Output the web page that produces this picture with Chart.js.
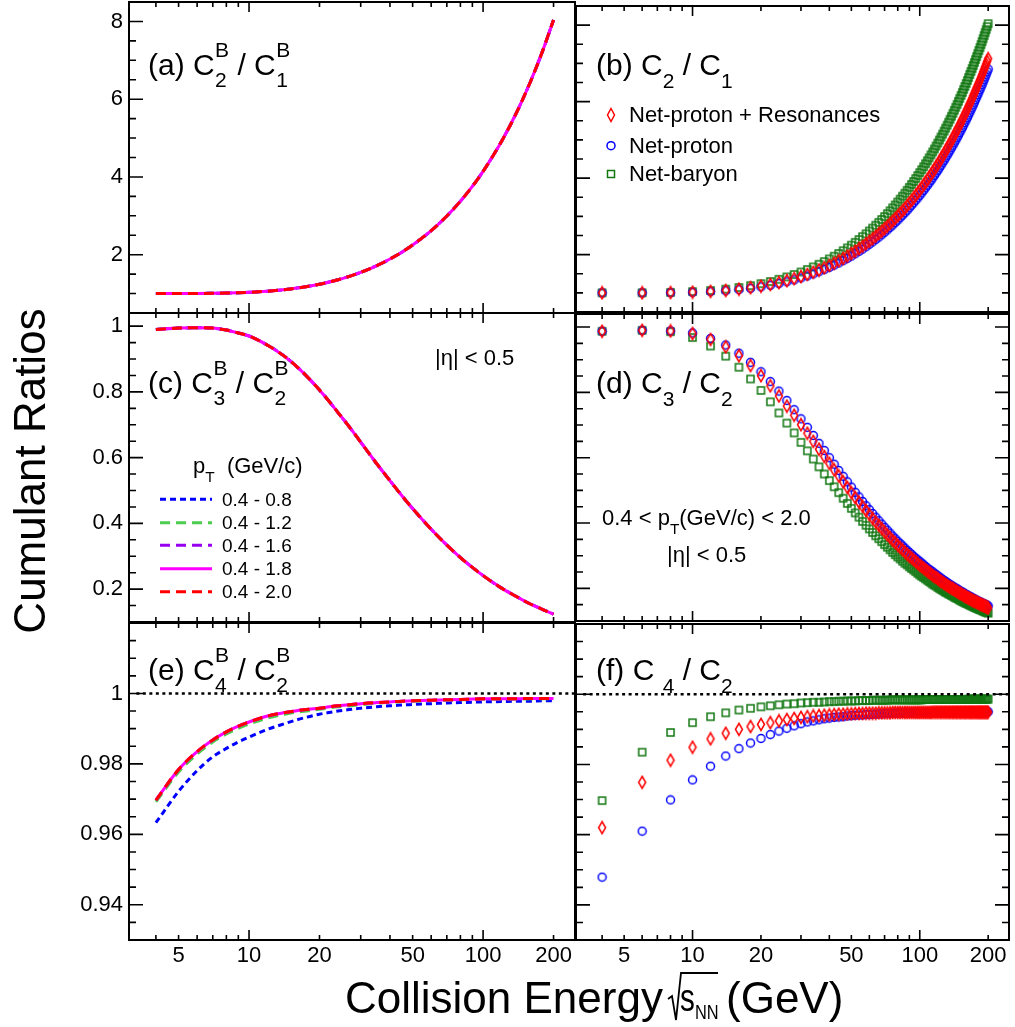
<!DOCTYPE html>
<html lang="en">
<head>
<meta charset="UTF-8" />
<title>Cumulant Ratios</title>
<script src="https://cdn.jsdelivr.net/npm/chart.js/dist/chart.umd.min.js"></script>
<style>
  body { margin: 0; background: #fff; width: 1015px; height: 1027px; position: relative; overflow: hidden; }
  canvas { position: absolute; }
  .t { position: absolute; white-space: nowrap; line-height: 1; color: #000;
       font-family: "Liberation Sans", Arial, sans-serif; }
  .st { display: inline-block; position: relative; width: .48em; height: .1em; }
  .st span { position: absolute; left: .02em; font-size: .7em; line-height: 1; }
  .st .u { top: -1.55em; }
  .st .d { top: -.12em; }
  .sb { position: relative; font-size: .7em; top: .6em; }
  .nar { transform: scaleX(.78); transform-origin: left top; }
  #marks { position: absolute; left: 0; top: 0; }
</style>
</head>
<body>
<canvas id="pa" width="580" height="318" style="left:0;top:0"></canvas>
<canvas id="pb" width="445" height="318" style="left:570px;top:0"></canvas>
<canvas id="pc" width="580" height="319" style="left:0;top:308px"></canvas>
<canvas id="pd" width="445" height="319" style="left:570px;top:308px"></canvas>
<canvas id="pe" width="580" height="409" style="left:0;top:618px"></canvas>
<canvas id="pf" width="445" height="409" style="left:570px;top:618px"></canvas>

<!-- panel labels -->
<div class="t" style="left:148px;top:50px;font-size:30px">(a) C<span class="st"><span class="u">B</span><span class="d">2</span></span> / C<span class="st"><span class="u">B</span><span class="d">1</span></span></div>
<div class="t" style="left:596px;top:50px;font-size:30px">(b) C<span class="sb">2</span> / C<span class="sb">1</span></div>
<div class="t" style="left:148px;top:368px;font-size:30px">(c) C<span class="st"><span class="u">B</span><span class="d">3</span></span> / C<span class="st"><span class="u">B</span><span class="d">2</span></span></div>
<div class="t" style="left:596px;top:368px;font-size:30px">(d) C<span class="sb">3</span> / C<span class="sb">2</span></div>
<div class="t" style="left:148px;top:655px;font-size:30px">(e) C<span class="st"><span class="u">B</span><span class="d">4</span></span> / C<span class="st"><span class="u">B</span><span class="d">2</span></span></div>
<div class="t" style="left:596px;top:655px;font-size:30px">(f) C <span class="sb">4</span> / C<span class="sb">2</span></div>

<!-- legend (b) -->
<div class="t" style="left:629px;top:104px;font-size:22px">Net-proton + Resonances</div>
<div class="t" style="left:629px;top:135px;font-size:22px">Net-proton</div>
<div class="t" style="left:629px;top:163px;font-size:22px">Net-baryon</div>

<!-- legend (c) -->
<div class="t" style="left:193px;top:455px;font-size:22px">p<span class="sb">T</span>&nbsp; (GeV/c)</div>
<div class="t" style="left:222px;top:490px;font-size:19px">0.4 - 0.8</div>
<div class="t" style="left:222px;top:513px;font-size:19px">0.4 - 1.2</div>
<div class="t" style="left:222px;top:536px;font-size:19px">0.4 - 1.6</div>
<div class="t" style="left:222px;top:559px;font-size:19px">0.4 - 1.8</div>
<div class="t" style="left:222px;top:582px;font-size:19px">0.4 - 2.0</div>
<div class="t" style="left:435px;top:347px;font-size:22px">|η| &lt; 0.5</div>

<!-- text (d) -->
<div class="t" style="left:602px;top:507px;font-size:22px">0.4 &lt; p<span class="sb">T</span>(GeV/c) &lt; 2.0</div>
<div class="t" style="left:667px;top:544px;font-size:22px">|η| &lt; 0.5</div>

<!-- axis titles -->
<div class="t" style="left:345px;top:976px;font-size:44px">Collision Energy</div>
<div class="t nar" style="left:680px;top:979px;font-size:38px">s</div>
<div class="t nar" style="left:695px;top:1001px;font-size:21px">NN</div>
<div class="t" style="left:726px;top:976px;font-size:44px">(GeV)</div>
<div class="t" style="left:-170px;top:449px;width:400px;text-align:center;font-size:44px;transform:rotate(-90deg)">Cumulant Ratios</div>

<svg id="marks" width="1015" height="1027">
  <polyline points="668,999 672,996 676,1020 681,973 718,973" fill="none" stroke="#000" stroke-width="1.8"/>
  <polygon points="611,108.5 614.5,115 611,121.5 607.5,115" fill="none" stroke="#ff0000" stroke-width="1.5"/>
  <circle cx="611" cy="145.7" r="4" fill="none" stroke="#0000ff" stroke-width="1.5"/>
  <rect x="607.5" y="170.5" width="7" height="7" fill="none" stroke="#117711" stroke-width="1.5"/>
  <line x1="160" y1="499.3" x2="212" y2="499.3" stroke="#0000ff" stroke-width="3" stroke-dasharray="6 4"/>
  <line x1="160" y1="522.7" x2="212" y2="522.7" stroke="#4dcc4d" stroke-width="3" stroke-dasharray="10 6"/>
  <line x1="160" y1="545.3" x2="212" y2="545.3" stroke="#9a00f0" stroke-width="3" stroke-dasharray="10 6"/>
  <line x1="160" y1="568.7" x2="212" y2="568.7" stroke="#ff00ff" stroke-width="3"/>
  <line x1="160" y1="591.7" x2="212" y2="591.7" stroke="#ff0000" stroke-width="3" stroke-dasharray="10 6"/>
</svg>

<script>
// collision energies of the model points (GeV)
const energies = [4,6,8,10,12,14,16,18,20,22,
  24,26,28,30,32,34,36,38,40,42,
  44,46,48,50,52,54,56,58,60,62,
  64,66,68,70,72,74,76,78,80,82,
  84,86,88,90,92,94,96,98,100,102,
  104,106,108,110,112,114,116,118,120,122,
  124,126,128,130,132,134,136,138,140,142,
  144,146,148,150,152,154,156,158,160,162,
  164,166,168,170,172,174,176,178,180,182,
  184,186,188,190,192,194,196,198,200];

// (b) C2/C1
const c2c1NetProtonRes = [1.000,1.001,1.007,1.019,1.039,1.065,1.097,1.134,1.175,1.220,
  1.268,1.319,1.371,1.426,1.481,1.538,1.597,1.656,1.716,1.778,
  1.839,1.901,1.964,2.027,2.091,2.155,2.220,2.285,2.350,2.415,
  2.481,2.547,2.613,2.679,2.745,2.812,2.878,2.945,3.012,3.079,
  3.146,3.214,3.281,3.349,3.416,3.484,3.552,3.620,3.687,3.756,
  3.824,3.892,3.960,4.028,4.096,4.164,4.233,4.301,4.369,4.438,
  4.506,4.575,4.643,4.712,4.781,4.849,4.918,4.986,5.055,5.124,
  5.193,5.261,5.330,5.399,5.468,5.537,5.605,5.674,5.743,5.812,
  5.881,5.950,6.019,6.088,6.157,6.226,6.295,6.364,6.433,6.502,
  6.571,6.640,6.709,6.778,6.847,6.917,6.986,7.055,7.124];
const c2c1NetProton = [1.000,1.001,1.005,1.016,1.033,1.056,1.085,1.119,1.157,1.198,
  1.243,1.290,1.339,1.391,1.443,1.497,1.553,1.609,1.666,1.724,
  1.782,1.842,1.901,1.962,2.023,2.084,2.145,2.207,2.270,2.332,
  2.395,2.458,2.521,2.584,2.648,2.711,2.775,2.839,2.903,2.968,
  3.032,3.096,3.161,3.226,3.291,3.356,3.420,3.485,3.550,3.616,
  3.681,3.746,3.811,3.877,3.942,4.008,4.073,4.139,4.204,4.270,
  4.336,4.401,4.467,4.533,4.599,4.665,4.731,4.797,4.862,4.928,
  4.994,5.060,5.126,5.193,5.259,5.325,5.391,5.457,5.523,5.589,
  5.655,5.722,5.788,5.854,5.920,5.987,6.053,6.119,6.185,6.252,
  6.318,6.384,6.451,6.517,6.583,6.650,6.716,6.783,6.849];
const c2c1NetBaryon = [1.000,1.003,1.013,1.033,1.062,1.098,1.141,1.189,1.241,1.297,
  1.356,1.417,1.480,1.546,1.611,1.679,1.748,1.817,1.888,1.959,
  2.030,2.102,2.175,2.248,2.321,2.395,2.469,2.544,2.618,2.693,
  2.768,2.844,2.919,2.995,3.071,3.147,3.223,3.299,3.376,3.452,
  3.529,3.605,3.682,3.759,3.836,3.913,3.990,4.067,4.144,4.222,
  4.299,4.376,4.453,4.531,4.608,4.686,4.763,4.841,4.918,4.996,
  5.074,5.151,5.229,5.307,5.385,5.462,5.540,5.618,5.696,5.774,
  5.852,5.929,6.007,6.085,6.163,6.241,6.319,6.397,6.475,6.553,
  6.631,6.710,6.788,6.866,6.944,7.022,7.100,7.178,7.256,7.335,
  7.413,7.491,7.569,7.647,7.726,7.804,7.882,7.960,8.039];

// (d) C3/C2
const c3c2NetProtonRes = [0.987,0.990,0.988,0.980,0.962,0.939,0.912,0.882,0.851,0.820,
  0.789,0.758,0.730,0.701,0.675,0.650,0.626,0.604,0.583,0.563,
  0.544,0.526,0.509,0.493,0.478,0.464,0.451,0.438,0.426,0.414,
  0.403,0.393,0.383,0.373,0.364,0.356,0.347,0.340,0.332,0.325,
  0.318,0.311,0.305,0.299,0.293,0.287,0.282,0.276,0.271,0.266,
  0.262,0.257,0.253,0.248,0.244,0.240,0.236,0.233,0.229,0.225,
  0.222,0.219,0.215,0.212,0.209,0.206,0.203,0.201,0.198,0.195,
  0.193,0.190,0.188,0.185,0.183,0.181,0.178,0.176,0.174,0.172,
  0.170,0.168,0.166,0.164,0.162,0.161,0.159,0.157,0.156,0.154,
  0.152,0.151,0.149,0.148,0.146,0.145,0.143,0.142,0.140];
const c3c2NetProton = [0.987,0.990,0.988,0.982,0.965,0.945,0.920,0.892,0.863,0.833,
  0.804,0.775,0.747,0.719,0.693,0.668,0.644,0.622,0.600,0.580,
  0.561,0.543,0.526,0.510,0.494,0.480,0.466,0.453,0.441,0.429,
  0.418,0.407,0.397,0.387,0.378,0.369,0.360,0.352,0.344,0.337,
  0.330,0.323,0.316,0.310,0.304,0.298,0.292,0.287,0.282,0.277,
  0.272,0.267,0.262,0.258,0.254,0.250,0.246,0.242,0.238,0.234,
  0.231,0.227,0.224,0.221,0.217,0.214,0.211,0.209,0.206,0.203,
  0.200,0.198,0.195,0.193,0.190,0.188,0.186,0.183,0.181,0.179,
  0.177,0.175,0.173,0.171,0.169,0.167,0.165,0.163,0.162,0.160,
  0.158,0.157,0.155,0.153,0.152,0.150,0.149,0.147,0.146];
const c3c2NetBaryon = [0.987,0.990,0.986,0.968,0.942,0.911,0.877,0.841,0.806,0.771,
  0.737,0.706,0.676,0.647,0.621,0.596,0.572,0.550,0.530,0.511,
  0.493,0.476,0.460,0.445,0.431,0.418,0.405,0.393,0.382,0.371,
  0.361,0.352,0.343,0.334,0.326,0.318,0.310,0.303,0.296,0.290,
  0.283,0.277,0.272,0.266,0.261,0.256,0.251,0.246,0.241,0.237,
  0.233,0.229,0.225,0.221,0.217,0.213,0.210,0.207,0.203,0.200,
  0.197,0.194,0.191,0.188,0.186,0.183,0.181,0.178,0.176,0.173,
  0.171,0.169,0.167,0.164,0.162,0.160,0.158,0.156,0.154,0.153,
  0.151,0.149,0.147,0.146,0.144,0.142,0.141,0.139,0.138,0.136,
  0.135,0.134,0.132,0.131,0.129,0.128,0.127,0.126,0.124];

// (f) C4/C2
const c4c2NetProtonRes = [0.9620,0.9749,0.9812,0.9849,0.9873,0.9889,0.9900,0.9908,0.9914,0.9919,
  0.9924,0.9928,0.9931,0.9934,0.9936,0.9938,0.9939,0.9940,0.9941,0.9942,
  0.9943,0.9943,0.9944,0.9944,0.9945,0.9945,0.9945,0.9946,0.9946,0.9946,
  0.9946,0.9947,0.9947,0.9947,0.9947,0.9947,0.9948,0.9948,0.9948,0.9948,
  0.9948,0.9948,0.9948,0.9948,0.9948,0.9948,0.9948,0.9948,0.9948,0.9948,
  0.9948,0.9948,0.9948,0.9948,0.9948,0.9949,0.9949,0.9949,0.9949,0.9949,
  0.9949,0.9949,0.9949,0.9949,0.9949,0.9949,0.9949,0.9949,0.9949,0.9949,
  0.9949,0.9949,0.9949,0.9949,0.9949,0.9949,0.9949,0.9949,0.9949,0.9949,
  0.9949,0.9949,0.9949,0.9949,0.9949,0.9949,0.9949,0.9949,0.9949,0.9949,
  0.9949,0.9949,0.9949,0.9949,0.9949,0.9949,0.9949,0.9949,0.9949];
const c4c2NetProton = [0.9479,0.9610,0.9699,0.9756,0.9795,0.9824,0.9845,0.9861,0.9874,0.9885,
  0.9895,0.9903,0.9910,0.9916,0.9921,0.9924,0.9927,0.9930,0.9932,0.9934,
  0.9935,0.9936,0.9938,0.9939,0.9940,0.9941,0.9941,0.9942,0.9942,0.9943,
  0.9943,0.9944,0.9944,0.9945,0.9945,0.9945,0.9946,0.9946,0.9946,0.9946,
  0.9947,0.9947,0.9947,0.9947,0.9947,0.9947,0.9947,0.9947,0.9948,0.9948,
  0.9948,0.9948,0.9948,0.9948,0.9948,0.9948,0.9949,0.9949,0.9949,0.9949,
  0.9949,0.9949,0.9949,0.9949,0.9949,0.9949,0.9949,0.9949,0.9949,0.9949,
  0.9950,0.9950,0.9950,0.9950,0.9950,0.9950,0.9950,0.9950,0.9950,0.9950,
  0.9950,0.9950,0.9950,0.9950,0.9950,0.9950,0.9950,0.9950,0.9950,0.9950,
  0.9950,0.9950,0.9950,0.9950,0.9950,0.9950,0.9950,0.9950,0.9950];
const c4c2NetBaryon = [0.9697,0.9835,0.9891,0.9919,0.9936,0.9947,0.9955,0.9960,0.9964,0.9967,
  0.9970,0.9972,0.9973,0.9975,0.9976,0.9977,0.9977,0.9978,0.9979,0.9979,
  0.9980,0.9980,0.9981,0.9981,0.9981,0.9982,0.9982,0.9982,0.9982,0.9983,
  0.9983,0.9983,0.9983,0.9983,0.9983,0.9984,0.9984,0.9984,0.9984,0.9984,
  0.9984,0.9984,0.9984,0.9984,0.9984,0.9984,0.9984,0.9984,0.9984,0.9984,
  0.9985,0.9985,0.9985,0.9985,0.9985,0.9985,0.9985,0.9985,0.9985,0.9985,
  0.9985,0.9985,0.9985,0.9985,0.9985,0.9985,0.9985,0.9985,0.9985,0.9985,
  0.9985,0.9985,0.9985,0.9985,0.9985,0.9985,0.9985,0.9985,0.9985,0.9985,
  0.9986,0.9986,0.9986,0.9986,0.9986,0.9986,0.9986,0.9986,0.9986,0.9986,
  0.9986,0.9986,0.9986,0.9986,0.9986,0.9986,0.9986,0.9986,0.9986];

// baryon-number curves (a), (c), (e)
const lineEnergies = [4,5,6,7,8,9,10,12,14,16,18,20,22,24,26,28,30,35,40,45,50,60,70,80,90,100,120,140,160,180,200];
const c2c1Lines = [1.000,1.001,1.003,1.007,1.013,1.022,1.033,1.062,1.098,1.141,1.189,1.241,1.297,1.356,1.417,1.480,
  1.546,1.714,1.888,2.065,2.248,2.618,2.995,3.376,3.759,4.144,4.918,5.696,6.475,7.256,8.039];
const c3c2Lines = [0.990,0.994,0.995,0.994,0.988,0.979,0.970,0.942,0.911,0.877,0.841,0.806,0.771,0.737,0.706,0.676,
  0.647,0.583,0.530,0.484,0.445,0.382,0.334,0.296,0.266,0.241,0.203,0.176,0.154,0.138,0.124];
const c4c2PtHigh = [0.9697,0.9784,0.9835,0.9868,0.9891,0.9907,0.9919,0.9936,0.9945,0.9951,0.9955,0.9958,0.9962,0.9965,0.9967,0.9969,
  0.9971,0.9974,0.9976,0.9978,0.9979,0.9981,0.9982,0.9983,0.9984,0.9985,0.9985,0.9985,0.9986,0.9986,0.9986];
const c4c2Pt12 = [0.9692,0.9777,0.9828,0.9862,0.9885,0.9901,0.9913,0.9930,0.9940,0.9947,0.9951,0.9955,0.9959,0.9962,0.9964,0.9966,
  0.9968,0.9972,0.9975,0.9977,0.9978,0.9980,0.9981,0.9982,0.9983,0.9984,0.9984,0.9984,0.9985,0.9985,0.9985];
const c4c2Pt08 = [0.9633,0.9722,0.9781,0.9820,0.9844,0.9862,0.9876,0.9898,0.9913,0.9925,0.9934,0.9941,0.9946,0.9950,0.9953,0.9956,
  0.9958,0.9962,0.9965,0.9967,0.9969,0.9971,0.9973,0.9974,0.9975,0.9976,0.9977,0.9978,0.9978,0.9979,0.9979];

// axis ticks
const xMajorTicks = [10, 100];
const xMinorTicks = [4,5,6,7,8,9,20,30,40,50,60,70,80,90,200];
const xLabelValues = [5, 10, 20, 50, 100, 200];
const xLabelText = ['5', '10', '20', '50', '100', '200'];
const yMajorA = [2, 4, 6, 8];
const yLabelsA = ['2', '4', '6', '8'];
const yMinorA = [0.5,1,1.5,2.5,3,3.5,4.5,5,5.5,6.5,7,7.5,8.5];
const yMajorC = [0.2, 0.4, 0.6, 0.8, 1];
const yLabelsC = ['0.2', '0.4', '0.6', '0.8', '1'];
const yMinorC = [0.1,0.15,0.25,0.3,0.35,0.45,0.5,0.55,0.65,0.7,0.75,0.85,0.9,0.95];
const yMajorE = [0.94, 0.96, 0.98, 1];
const yLabelsE = ['0.94', '0.96', '0.98', '1'];
const yMinorE = [0.93,0.935,0.945,0.95,0.955,0.965,0.97,0.975,0.985,0.99,0.995,1.005,1.01,1.015,1.02];

const FONT = "'Liberation Sans', Arial, sans-serif";
const xMin = 3.07, xMax = 247;
const RED = '#ff0000', BLUE = '#0000ff', GREEN = '#117711';

function pts(xs, ys) {
  return xs.map((x, i) => ({ x: x, y: ys[i] }));
}

// open ROOT-like markers
function markerImg(shape, color) {
  const c = document.createElement('canvas');
  c.width = shape === 'diamond' ? 10 : 11;
  c.height = shape === 'diamond' ? 15 : 11;
  const g = c.getContext('2d');
  g.strokeStyle = color;
  g.lineWidth = 1.5;
  g.beginPath();
  if (shape === 'circle') g.arc(5.5, 5.5, 4, 0, Math.PI * 2);
  else if (shape === 'square') g.rect(2, 2, 7, 7);
  else { g.moveTo(5, 1.5); g.lineTo(8.5, 7.5); g.lineTo(5, 13.5); g.lineTo(1.5, 7.5); g.closePath(); }
  g.stroke();
  return c;
}
const diamond = markerImg('diamond', RED);
const circle = markerImg('circle', BLUE);
const square = markerImg('square', GREEN);

function markers(red, blue, green) {
  const base = { showLine: false, pointRadius: 5, pointHoverRadius: 5 };
  return [
    Object.assign({ data: pts(energies, red), pointStyle: diamond }, base),
    Object.assign({ data: pts(energies, blue), pointStyle: circle }, base),
    Object.assign({ data: pts(energies, green), pointStyle: square }, base)
  ];
}

function lines(p08, p12, p16, p18, p20) {
  const base = { showLine: true, pointRadius: 0, borderWidth: 3, fill: false, cubicInterpolationMode: 'monotone' };
  return [
    Object.assign({ data: pts(lineEnergies, p20), borderColor: RED, borderDash: [10, 6] }, base),
    Object.assign({ data: pts(lineEnergies, p18), borderColor: '#ff00ff' }, base),
    Object.assign({ data: pts(lineEnergies, p16), borderColor: '#9a00f0', borderDash: [10, 6] }, base),
    Object.assign({ data: pts(lineEnergies, p12), borderColor: '#4dcc4d', borderDash: [10, 6] }, base),
    Object.assign({ data: pts(lineEnergies, p08), borderColor: BLUE, borderDash: [6, 4] }, base)
  ];
}

function unityLine() {
  return {
    data: [{ x: 3.3, y: 1 }, { x: 247, y: 1 }],
    showLine: true, pointRadius: 0, borderColor: '#000', borderWidth: 2.5, borderDash: [3, 3.5]
  };
}

// frame with inward ticks, ROOT style
const frame = {
  id: 'frame',
  afterDatasetsDraw(chart, args, o) {
    const { ctx, chartArea: a, scales: { x, y } } = chart;
    ctx.save();
    ctx.strokeStyle = '#000';
    ctx.lineWidth = 1.6;
    ctx.beginPath();
    const seg = (x1, y1, x2, y2) => { ctx.moveTo(x1, y1); ctx.lineTo(x2, y2); };
    xMajorTicks.concat(xMinorTicks).forEach(v => {
      const px = x.getPixelForValue(v);
      const len = xMajorTicks.includes(v) ? 10 : 5;
      seg(px, a.bottom, px, a.bottom - len);
      seg(px, a.top, px, a.top + len);
    });
    o.yMajor.concat(o.yMinor).forEach(v => {
      const py = y.getPixelForValue(v);
      const len = o.yMajor.includes(v) ? 14 : 7;
      seg(a.left, py, a.left + len, py);
      if (o.right) seg(a.right, py, a.right - len, py);
    });
    ctx.stroke();
    ctx.lineWidth = 2;
    ctx.strokeRect(a.left, a.top, a.right - a.left, a.bottom - a.top);
    ctx.restore();
  }
};

function panel(id, o) {
  const yText = o.yLabels || [];
  return new Chart(document.getElementById(id), {
    type: 'scatter',
    data: { datasets: o.datasets },
    options: {
      responsive: false,
      animation: false,
      devicePixelRatio: 1,
      events: [],
      layout: { padding: o.pad },
      plugins: {
        legend: { display: false },
        tooltip: { enabled: false },
        frame: { yMajor: o.yMajor, yMinor: o.yMinor, right: !!o.right }
      },
      scales: {
        x: {
          type: 'logarithmic', min: xMin, max: xMax,
          display: !!o.xHeight, position: 'bottom',
          grid: { display: false, drawTicks: false }, border: { display: false },
          afterBuildTicks: s => { s.ticks = xLabelValues.map(v => ({ value: v })); },
          afterFit: s => { s.height = o.xHeight || 0; s.paddingLeft = 0; s.paddingRight = 0; },
          ticks: {
            autoSkip: false, maxRotation: 0, minRotation: 0, padding: 3, color: '#000',
            font: { family: FONT, size: 22 },
            callback: (v, i) => xLabelText[i] || ''
          }
        },
        y: {
          type: 'linear', min: o.yMin, max: o.yMax,
          display: !!o.yLabels, position: 'left',
          grid: { display: false, drawTicks: false }, border: { display: false },
          afterBuildTicks: s => { s.ticks = o.yMajor.map(v => ({ value: v })); },
          afterFit: s => { s.width = o.yLabels ? 129 : 0; s.paddingTop = 0; s.paddingBottom = 0; },
          ticks: {
            padding: 6, color: '#000',
            font: { family: FONT, size: 22 },
            callback: (v, i) => yText[i] || ''
          }
        }
      }
    },
    plugins: [frame]
  });
}

const padL = (t, b) => ({ left: 0, right: 5, top: t, bottom: b });
const padR = (t, b) => ({ left: 5, right: 2, top: t, bottom: b });

panel('pa', { pad: padL(2, 5), yMin: 0.5, yMax: 8.5, yMajor: yMajorA, yMinor: yMinorA, yLabels: yLabelsA,
  datasets: lines(c2c1Lines, c2c1Lines, c2c1Lines, c2c1Lines, c2c1Lines) });
panel('pb', { pad: padR(2, 5), yMin: 0.5, yMax: 8.5, yMajor: yMajorA, yMinor: yMinorA, right: true,
  datasets: markers(c2c1NetProtonRes, c2c1NetProton, c2c1NetBaryon) });
panel('pc', { pad: padL(5, 5), yMin: 0.1, yMax: 1.04, yMajor: yMajorC, yMinor: yMinorC, yLabels: yLabelsC,
  datasets: lines(c3c2Lines, c3c2Lines, c3c2Lines, c3c2Lines, c3c2Lines) });
panel('pd', { pad: padR(5, 5), yMin: 0.1, yMax: 1.04, yMajor: yMajorC, yMinor: yMinorC, right: true,
  datasets: markers(c3c2NetProtonRes, c3c2NetProton, c3c2NetBaryon) });
panel('pe', { pad: padL(5, 0), xHeight: 87, yMin: 0.93, yMax: 1.02, yMajor: yMajorE, yMinor: yMinorE, yLabels: yLabelsE,
  datasets: [unityLine()].concat(lines(c4c2Pt08, c4c2Pt12, c4c2PtHigh, c4c2PtHigh, c4c2PtHigh)) });
panel('pf', { pad: padR(5, 0), xHeight: 87, yMin: 0.93, yMax: 1.02, yMajor: yMajorE, yMinor: yMinorE, right: true,
  datasets: [unityLine()].concat(markers(c4c2NetProtonRes, c4c2NetProton, c4c2NetBaryon)) });
</script>
</body>
</html>
